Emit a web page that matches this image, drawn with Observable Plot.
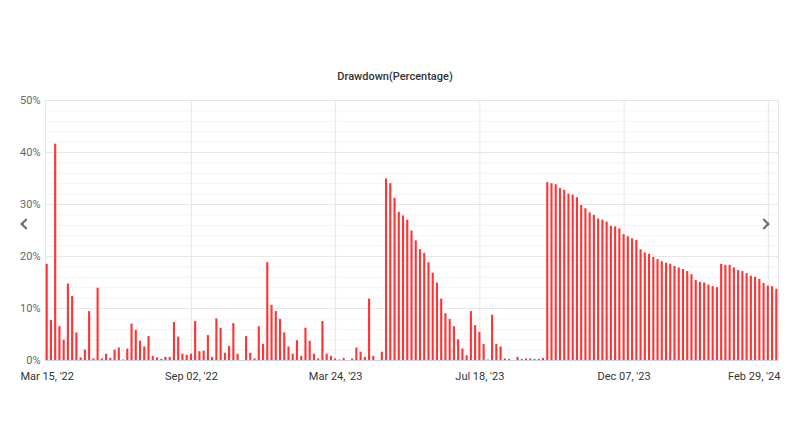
<!DOCTYPE html>
<html><head><meta charset="utf-8">
<script src="https://cdn.jsdelivr.net/npm/d3@7"></script>
<script src="https://cdn.jsdelivr.net/npm/@observablehq/plot@0.6"></script>
<style>
body{margin:0;background:#fff;font-family:Roboto,sans-serif;}
#wrap{position:relative;width:790px;height:444px;overflow:hidden;background:#fff;}
#title{position:absolute;left:0;width:790px;top:70px;text-align:center;font-size:11px;line-height:13px;color:#333;font-weight:500;}
#chart{position:absolute;left:0;top:0;}
.chev{position:absolute;width:6px;height:6px;border-left:2px solid #6a6a6a;border-bottom:2px solid #6a6a6a;}
#prev{left:22px;top:220px;transform:rotate(45deg);}
#next{left:760px;top:220px;transform:rotate(-135deg);}
</style></head><body>
<div id="wrap"><div id="chart"></div><div id="title">Drawdown(Percentage)</div><div class="chev" id="prev"></div><div class="chev" id="next"></div></div>
<script>
const drawdown = [
  18.5, 7.7, 41.6, 6.5, 3.9, 14.7, 12.3, 5.3, 0.5, 2.0,
  9.4, 0.3, 13.9, 0.3, 1.2, 0.4, 2.0, 2.4, 0.1, 2.2,
  7.0, 5.8, 3.7, 2.6, 4.6, 0.8, 0.5, 0.2, 0.6, 0.6,
  7.3, 4.5, 1.2, 1.0, 1.2,
  7.5, 1.7, 1.8, 4.8, 0.6, 8.0, 6.2, 1.4, 2.7, 7.1,
  1.2, 0, 4.6, 1.4, 0.3, 6.5, 3.1, 18.8, 10.6, 9.4,
  7.9, 5.3, 2.6, 1.2, 3.8, 0.8, 6.2, 3.7, 1.2, 0.3,
  7.5, 1.2, 0.8, 0.3,
  0.1, 0.4, 0, 0.3, 2.4, 1.6, 0.6, 11.8, 0.8, 0,
  1.6, 34.9, 34.0, 31.2, 28.5, 27.8, 27.0, 24.9, 23.0, 21.3,
  20.6, 18.8, 16.8, 14.9, 11.8, 9.0, 7.9, 6.5, 4.0, 2.2,
  0.9, 9.4, 6.7, 5.4, 3.1,
  0.1, 8.7, 3.1, 2.6, 0.3, 0.2, 0, 0.6, 0.2, 0.3,
  0.3, 0.2, 0.2, 0.4, 34.2, 34.0, 33.8, 33.1, 32.7, 32.0,
  31.8, 31.3, 29.8, 29.2, 28.4, 27.9, 27.2, 27.0, 26.6, 25.8,
  25.7, 25.3, 24.2, 23.8,
  23.4, 23.1, 21.3, 20.7, 20.4, 19.8, 19.4, 19.0, 18.7, 18.5,
  18.1, 17.8, 17.5, 17.1, 16.5, 15.4, 15.0, 14.9, 14.5, 14.2,
  14.0, 18.5, 18.3, 18.3, 17.8, 17.3, 17.1, 16.7, 16.2, 16.0,
  15.6, 14.8, 14.3, 14.2, 13.7
];
const tickIndex = [0, 34, 68, 102, 136, 170];
const tickLabels = ["Mar 15, '22", "Sep 02, '22", "Mar 24, '23", "Jul 18, '23", "Dec 07, '23", "Feb 29, '24"];
const yTicks = [0, 10, 20, 30, 40, 50];
const yMinor = d3.range(2, 50, 2).filter(d => d % 10 !== 0);

const data = drawdown.map((v, i) => ({i, v}));
const fmtX = i => tickLabels[tickIndex.indexOf(i)];

const chart = Plot.plot({
  width: 790, height: 444,
  marginLeft: 45, marginRight: 12, marginTop: 100, marginBottom: 84,
  style: {fontFamily: "Roboto, sans-serif", fontSize: "11px", background: "#fff", color: "#333"},
  x: {type: "band", domain: d3.range(drawdown.length), paddingInner: 0.5, paddingOuter: 0.15, axis: null},
  y: {domain: [0, 50], axis: null},
  marks: [
    Plot.ruleY(yMinor, {stroke: "#f3f3f3"}),
    Plot.ruleY(yTicks.slice(1), {stroke: "#e6e6e6"}),
    Plot.gridX(tickIndex.slice(1), {stroke: "#e6e6e6", strokeOpacity: 1}),
    Plot.frame({anchor: "left", stroke: "#e6e6e6"}),
    Plot.frame({anchor: "right", stroke: "#e6e6e6"}),
    Plot.barY(data, {x: "i", y: "v", fill: "#ff3535"}),
    Plot.ruleY([0], {stroke: "#ccd6eb"}),
    Plot.axisY(yTicks, {tickSize: 0, tickPadding: 5, tickFormat: d => d + "%", fill: "#666", label: null}),
    Plot.axisX(tickIndex.slice(0, 5), {tickSize: 0, tickPadding: 12, tickFormat: fmtX, fill: "#333", label: null}),
    Plot.axisX(tickIndex.slice(5), {tickSize: 0, tickPadding: 12, tickFormat: fmtX, fill: "#333", textAnchor: "end", dx: 12, label: null})
  ]
});
document.getElementById("chart").appendChild(chart);
</script>
</body></html>
